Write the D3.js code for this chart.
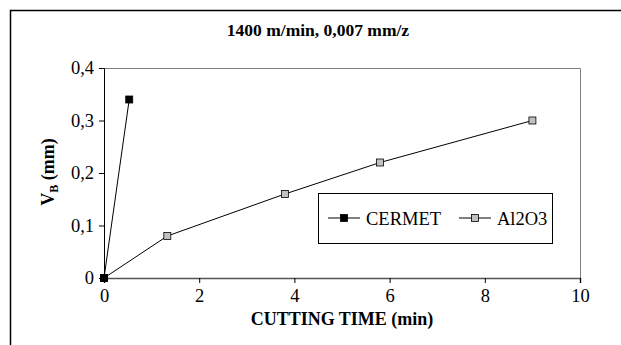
<!DOCTYPE html>
<html>
<head>
<meta charset="utf-8">
<script src="https://cdn.jsdelivr.net/npm/d3@7"></script>
<style>
  body { margin: 0; background: #fff; }
</style>
</head>
<body>
<svg id="chart" width="621" height="345"></svg>
<script>
// data
const cermetTime = [0, 0.53];
const cermetVB = [0, 0.34];
const al2o3Time = [0, 1.33, 3.8, 5.8, 9];
const al2o3VB = [0, 0.08, 0.16, 0.22, 0.3];
const xTicks = [0, 2, 4, 6, 8, 10];
const yTicks = [0, 0.1, 0.2, 0.3, 0.4];
const seriesNames = ['CERMET', 'Al2O3'];

const FONT = 'Liberation Serif';

const svg = d3.select('#chart');
const margin = { top: 68, right: 41, bottom: 67, left: 104 };
const width = 621 - margin.left - margin.right;
const height = 345 - margin.top - margin.bottom;

// outer chart frame (cut at the right and bottom in the original)
svg.append('rect')
  .attr('x', 10.5).attr('y', 10.5)
  .attr('width', 700).attr('height', 400)
  .attr('fill', 'none').attr('stroke', '#000').attr('stroke-width', 1.5);

svg.append('text')
  .attr('x', 318).attr('y', 36)
  .attr('text-anchor', 'middle')
  .attr('font-family', FONT).attr('font-size', 17.5).attr('font-weight', 'bold')
  .text('1400 m/min, 0,007 mm/z');

const g = svg.append('g').attr('transform', `translate(${margin.left},${margin.top})`);

const x = d3.scaleLinear().domain([0, 10]).range([0, width]);
const y = d3.scaleLinear().domain([0, 0.4]).range([height, 0]);

// plot area border (top + right)
g.append('path')
  .attr('d', `M0,0.5H${width + 0.5}V${height}`)
  .attr('fill', 'none').attr('stroke', '#808080').attr('stroke-width', 1);

const fmt = d => d === 0 ? '0' : d3.format('.1f')(d).replace('.', ',');

const yAxis = g.append('g')
  .call(d3.axisLeft(y).tickValues(yTicks).tickFormat(fmt).tickSize(5).tickPadding(5));
yAxis.attr('font-family', FONT).attr('font-size', 18.5);
yAxis.select('.domain').attr('stroke', '#000');
yAxis.selectAll('text').attr('fill', '#000');

const xAxis = g.append('g')
  .attr('transform', `translate(0,${height})`)
  .call(d3.axisBottom(x).tickValues(xTicks).tickFormat(d3.format('d')).tickSize(5).tickPadding(6));
xAxis.attr('font-family', FONT).attr('font-size', 18.5);
xAxis.select('.domain').attr('stroke', '#555').attr('stroke-width', 1.5);
xAxis.selectAll('text').attr('fill', '#000');

// axis titles
g.append('text')
  .attr('x', 238).attr('y', height + 47)
  .attr('text-anchor', 'middle')
  .attr('font-family', FONT).attr('font-size', 18).attr('font-weight', 'bold')
  .text('CUTTING TIME (min)');

const yl = svg.append('text')
  .attr('transform', 'translate(54,172) rotate(-90)')
  .attr('text-anchor', 'middle')
  .attr('font-family', FONT).attr('font-size', 18).attr('font-weight', 'bold');
yl.append('tspan').text('V');
yl.append('tspan').attr('dy', 4).attr('font-size', 12).text('B');
yl.append('tspan').attr('dy', -4).text(' (mm)');

const line = d3.line().x(d => x(d[0])).y(d => y(d[1]));

const series = [
  { name: seriesNames[0], pts: d3.zip(cermetTime, cermetVB), fill: '#000' },
  { name: seriesNames[1], pts: d3.zip(al2o3Time, al2o3VB), fill: '#c0c0c0' }
];

series.forEach(s => {
  g.append('path').datum(s.pts)
    .attr('d', line).attr('fill', 'none').attr('stroke', '#000').attr('stroke-width', 1);
});
series.slice().reverse().forEach(s => {
  g.selectAll(null).data(s.pts).enter().append('rect')
    .attr('x', d => x(d[0]) - 3.5).attr('y', d => y(d[1]) - 3.5)
    .attr('width', 7).attr('height', 7)
    .attr('fill', s.fill).attr('stroke', '#000').attr('stroke-width', 0.8);
});

// legend
const lg = svg.append('g').attr('transform', 'translate(318,193)');
lg.append('rect').attr('x', 0.5).attr('y', 0.5).attr('width', 234).attr('height', 50)
  .attr('fill', '#fff').attr('stroke', '#000').attr('stroke-width', 1);
const legendX = [10, 141];
series.forEach((s, i) => {
  const e = lg.append('g').attr('transform', `translate(${legendX[i]},25)`);
  e.append('line').attr('x1', 0).attr('x2', 32).attr('stroke', '#000');
  e.append('rect').attr('x', 12.5).attr('y', -3.5).attr('width', 7).attr('height', 7)
    .attr('fill', s.fill).attr('stroke', '#000').attr('stroke-width', 0.8);
  e.append('text').attr('x', 38).attr('y', 6.5)
    .attr('font-family', FONT).attr('font-size', 18.5).text(s.name);
});
</script>
</body>
</html>
